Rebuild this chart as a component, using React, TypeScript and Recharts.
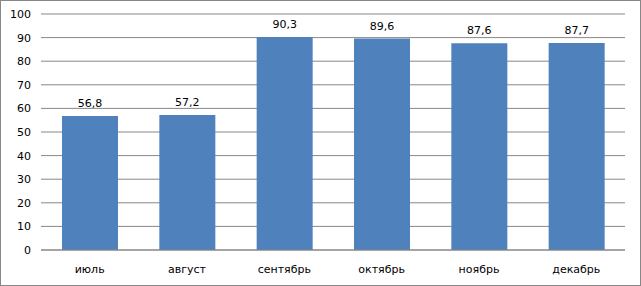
import React from 'react';
import { BarChart, Bar, XAxis, YAxis, CartesianGrid, LabelList } from 'recharts';

const months = ['июль', 'август', 'сентябрь', 'октябрь', 'ноябрь', 'декабрь'];
const values = [56.8, 57.2, 90.3, 89.6, 87.6, 87.7];
const yTicks = [0, 10, 20, 30, 40, 50, 60, 70, 80, 90, 100];

const data = months.map((month, i) => ({ month, value: values[i] }));

const font = { fontFamily: '"DejaVu Sans", sans-serif', fontSize: 11, fill: '#000' };

const App = () => {
  return (
    <div
      style={{
        position: 'absolute',
        left: 0,
        top: 0,
        width: 641,
        height: 286,
        boxSizing: 'border-box',
        border: '1px solid #878787',
        background: '#fff',
      }}
    >
      <BarChart
        width={639}
        height={284}
        data={data}
        margin={{ top: 13, right: 15, left: 0, bottom: 0 }}
      >
        <CartesianGrid vertical={false} stroke="#878787" />
        <XAxis
          dataKey="month"
          height={35}
          tickLine={false}
          tickSize={0}
          tickMargin={15}
          axisLine={{ stroke: '#878787' }}
          tick={font}
          interval={0}
        />
        <YAxis
          width={40}
          domain={[0, 100]}
          ticks={yTicks}
          axisLine={false}
          tickLine={false}
          tickSize={0}
          tickMargin={10}
          tick={font}
          interval={0}
        />
        <Bar dataKey="value" fill="#4F81BD" barSize={56} isAnimationActive={false}>
          <LabelList
            dataKey="value"
            position="top"
            offset={9}
            style={font}
            formatter={(v: number) => v.toFixed(1).replace('.', ',')}
          />
        </Bar>
      </BarChart>
    </div>
  );
};

export default App;
